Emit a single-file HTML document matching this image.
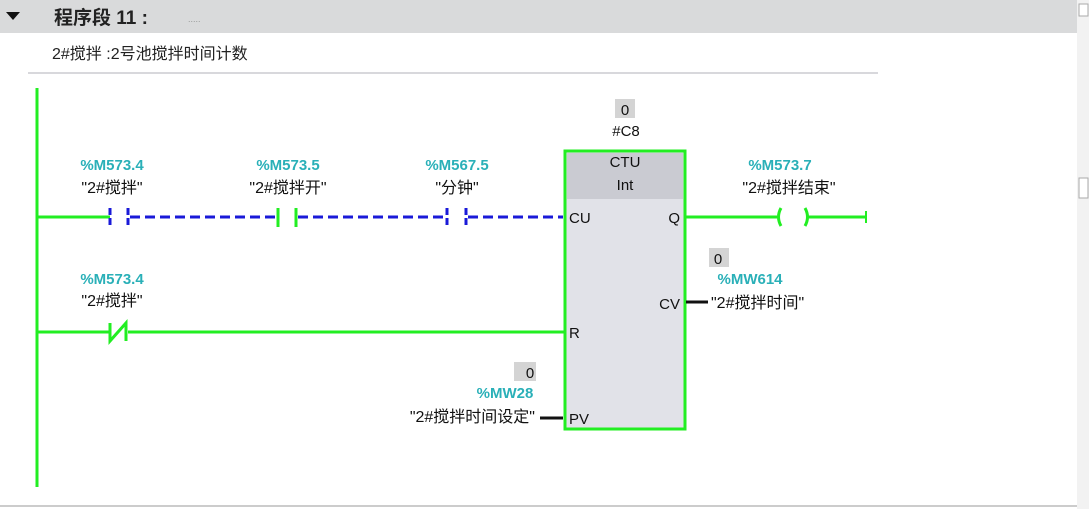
<!DOCTYPE html>
<html><head><meta charset="utf-8"><style>
body{margin:0;width:1089px;height:509px;overflow:hidden;background:#fff;font-family:"Liberation Sans","Noto Sans CJK SC",sans-serif;}
</style></head><body>
<svg width="1089" height="509" xmlns="http://www.w3.org/2000/svg" style="position:absolute;left:0;top:0;font-family:'Liberation Sans','Noto Sans CJK SC',sans-serif">
<rect x="0" y="0" width="1089" height="33" fill="#d9dadb"/>
<polygon points="6,12 20,12 13,20" fill="#111"/>
<text x="54" y="24" font-size="19" font-weight="bold" fill="#222">程序段 11 :</text>
<text x="188" y="22" font-size="9" fill="#999">.....</text>
<text x="52" y="59" font-size="16" fill="#222">2#搅拌 :2号池搅拌时间计数</text>
<line x1="28" y1="73" x2="878" y2="73" stroke="#d8d8dc" stroke-width="2"/>
<rect x="1077" y="0" width="12" height="509" fill="#f2f2f2"/>
<rect x="1079" y="4" width="9" height="12" fill="#fff" stroke="#aaa"/>
<rect x="1079" y="178" width="9" height="20" fill="#fff" stroke="#aaa"/>
<line x1="0" y1="506" x2="1077" y2="506" stroke="#ccc" stroke-width="2"/>

<g stroke="#22ee22" stroke-width="3" fill="none">
<line x1="37" y1="88" x2="37" y2="487"/>
<line x1="37" y1="217" x2="110" y2="217"/>
<line x1="278" y1="208" x2="278" y2="227"/>
<line x1="296" y1="208" x2="296" y2="227"/>
<line x1="37" y1="332" x2="110" y2="332"/>
<line x1="128" y1="332" x2="565" y2="332"/>
<path d="M110,323 V341 L126,323 V341"/>
<rect x="565" y="151" width="120" height="278" fill="#e1e2e8"/>
<line x1="685" y1="217" x2="777" y2="217"/>
<path d="M781,208 Q776,217 781,226"/>
<path d="M805,208 Q810,217 805,226"/>
<line x1="808" y1="217" x2="866" y2="217"/>
<line x1="866" y1="211" x2="866" y2="223" stroke-width="2"/>
</g>
<rect x="567" y="153" width="116" height="46" fill="#cacbd2"/>
<g stroke="#1a1ad8" stroke-width="3" fill="none">
<line x1="110" y1="208" x2="110" y2="227" stroke-dasharray="7,3"/>
<line x1="128" y1="208" x2="128" y2="227" stroke-dasharray="7,3"/>
<line x1="130" y1="217" x2="276" y2="217" stroke-dasharray="10,5"/>
<line x1="298" y1="217" x2="446" y2="217" stroke-dasharray="10,5"/>
<line x1="447" y1="208" x2="447" y2="227" stroke-dasharray="7,3"/>
<line x1="466" y1="208" x2="466" y2="227" stroke-dasharray="7,3"/>
<line x1="468" y1="217" x2="563" y2="217" stroke-dasharray="10,5"/>
</g>
<g stroke="#111" stroke-width="3">
<line x1="686" y1="302" x2="708" y2="302"/>
<line x1="540" y1="418" x2="563" y2="418"/>
</g>
<g font-size="15" fill="#2ab0b8" font-weight="bold" text-anchor="middle">
<text x="112" y="170">%M573.4</text>
<text x="288" y="170">%M573.5</text>
<text x="457" y="170">%M567.5</text>
<text x="112" y="284">%M573.4</text>
<text x="780" y="170">%M573.7</text>
<text x="750" y="284">%MW614</text>
<text x="505" y="398">%MW28</text>
</g>
<g font-size="16" fill="#111" text-anchor="middle">
<text x="112" y="193">"2#搅拌"</text>
<text x="288" y="193">"2#搅拌开"</text>
<text x="457" y="193">"分钟"</text>
<text x="112" y="306">"2#搅拌"</text>
<text x="789" y="193">"2#搅拌结束"</text>
<text x="711" y="308" text-anchor="start">"2#搅拌时间"</text>
<text x="535" y="422" text-anchor="end">"2#搅拌时间设定"</text>
<text x="626" y="136" font-size="15">#C8</text>
</g>
<rect x="615" y="99" width="20" height="19" fill="#d4d4d4"/>
<text x="625" y="115" font-size="15" fill="#111" text-anchor="middle">0</text>
<rect x="709" y="248" width="20" height="19" fill="#d4d4d4"/>
<text x="718" y="264" font-size="15" fill="#111" text-anchor="middle">0</text>
<rect x="514" y="362" width="22" height="19" fill="#d4d4d4"/>
<text x="530" y="378" font-size="15" fill="#111" text-anchor="middle">0</text>
<g font-size="15" fill="#111">
<text x="625" y="167" text-anchor="middle">CTU</text>
<text x="625" y="190" text-anchor="middle">Int</text>
<text x="569" y="223">CU</text>
<text x="569" y="338">R</text>
<text x="569" y="424">PV</text>
<text x="680" y="223" text-anchor="end">Q</text>
<text x="680" y="309" text-anchor="end">CV</text>
</g>
</svg>
</body></html>
